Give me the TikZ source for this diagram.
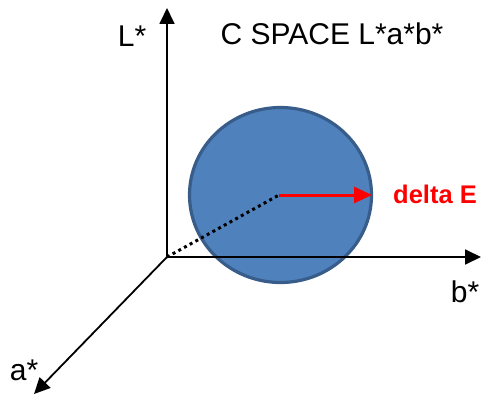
\documentclass[tikz,border=0pt]{standalone}
\usepackage{fontspec}
\setmainfont{Liberation Sans}
\usetikzlibrary{arrows.meta,shapes.geometric}
\definecolor{ballfill}{HTML}{4F81BD}
\definecolor{balledge}{HTML}{385D8A}
\begin{document}
\begin{tikzpicture}[x=1pt,y=-1pt,
  axis/.style={line width=1.8pt,-{Triangle[length=16pt,width=15pt]}},
  lbl/.style={font=\fontsize{30}{32}\selectfont,inner sep=0pt,anchor=base},
  ]
\useasboundingbox (0,0) rectangle (481,396);
\coordinate (O) at (167,257);
\coordinate (Ltip) at (167,8);
\coordinate (btip) at (481,257);
\coordinate (atip) at (34,394);
\node[ellipse,draw=balledge,fill=ballfill,line width=3.2pt,minimum width=182pt,minimum height=175pt,inner sep=0pt] (ball) at (280.5,195) {};
\coordinate (c) at (279,195);
\coordinate (r) at (372,195);
\draw[axis] (O) -- (Ltip);
\draw[axis] (O) -- (btip);
\draw[axis] (O) -- (atip);
\draw[line width=3pt,dash pattern=on 3pt off 3.5pt] (O) -- (c);
\draw[red,line width=3pt,-{Triangle[length=18pt,width=16pt]}] (c) -- (r);
\node[lbl] (L) at (132,47) {L*};
\node[lbl] (title) at (332,45) {C SPACE L*a*b*};
\node[lbl] (b) at (465,302) {b*};
\node[lbl] (a) at (24,380) {a*};
\node[inner sep=0pt,anchor=base,text=red,font=\bfseries\fontsize{25.5}{27}\selectfont] (dE) at (435,203) {delta E};
\end{tikzpicture}
\end{document}
